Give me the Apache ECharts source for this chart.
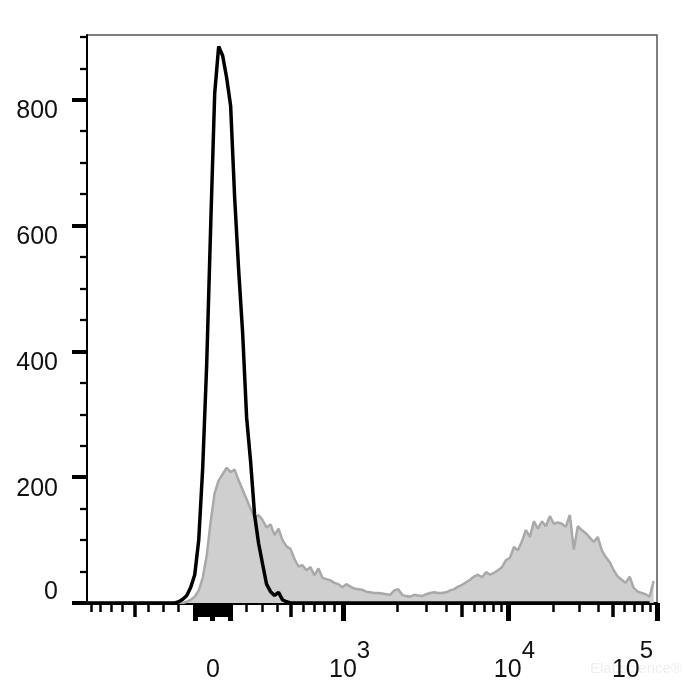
<!DOCTYPE html>
<html><head><meta charset="utf-8">
<script src="https://cdn.jsdelivr.net/npm/echarts@6/dist/echarts.min.js"></script>
<style>html,body{margin:0;padding:0;background:#fff}#c{width:700px;height:700px}</style>
</head><body><div id="c"></div>
<script>
// ---- histogram data (display-channel bins, left to right) ----
const BIN_START = -126;   // display units of first bin
const BIN_STEP = 4;
const greyCounts = [
  0,0,0,0,0,0,0,0,0,0, 0,0,0,0,0,0,0,0,0,0, 0,0,0,0,0,
  2,5,10,20,40,75,130,175,195,205,215,208,212,195,180,165,150,135,140,132,120,125,108,118,100,
  90,86,70,58,60,52,57,44,55,40,38,36,32,30,25,30,26,23,22,21,18,17,16,16,15,14,13,20,22,13,
  11,10,13,12,11,14,16,17,16,16,17,20,22,26,29,33,37,42,45,41,49,45,48,52,57,68,72,89,84,98,
  116,105,130,118,130,122,138,126,128,126,121,140,85,122,116,111,104,97,105,84,73,65,52,42,37,32,42,24,18,16,
  14,10,35
];
const blackCounts = [
  0,0,0,0,0,0,0,0,0,0, 0,0,0,0,0,0,0,0,0,0, 0,0,0,
  2,6,12,25,45,100,215,380,600,810,885,870,835,790,645,530,430,295,225,140,95,62,30,18,12,17,5,2,
  0,0,0,0,0,0,0,0,0,0, 0,0,0,0,0,0,0,0,0,0, 0,0,0,0,0,0,0,0,0,0, 0,0,0,0,0,0,0,0,0,0,
  0,0,0,0,0,0,0,0,0,0, 0,0,0,0,0,0,0,0,0,0, 0,0,0,0,0,0,0,0,0,0, 0,0,0,0,0,0,0,0,0,0,
  0,0,0,0,0,0,0,0,0,0, 0
];
// ---- axis ticks / labels ----
const yTickValues = [0, 200, 400, 600, 800];
const yTickLabels = ['0', '200', '400', '600', '800'];
const yMinorValues = [50,100,150,250,300,350,450,500,550,650,700,750,850,900];
const xLabelValues = [0, 1000, 10000, 100000];
const xLabelBase = ['0', '10', '10', '10'];
const xLabelSup = ['', '3', '4', '5'];
const xMajorValues = [-100, 0, 100, 1000, 10000, 100000];
const xMediumValues = [-500,-90,-80,-70,-60,-50,-40,-30,-20,-10,10,20,30,40,50,60,70,80,90,500,5000,50000];
const xMinorValues = [-900,-800,-700,-600,-400,-300,-200,200,300,400,600,700,800,900,
  2000,3000,4000,6000,7000,8000,9000,20000,30000,40000,60000,70000,80000,90000];
const YMAX = 903;

// biexponential-style display transform (value -> display units)
const LB = 97.3, LC = 560, DEC = 148, KX = 18.8, TAU = 0.4;
const D1000 = LB * Math.asinh(1000 / LC);
function toDisp(v) {
  const a = Math.abs(v), s = v < 0 ? -1 : 1;
  let d;
  if (a <= 1000) d = LB * Math.asinh(a / LC);
  else { const u = Math.log10(a / 1000); d = D1000 + DEC * u + KX * (1 - Math.exp(-u / TAU)); }
  return s * d;
}
const XMIN = BIN_START;
const XMAX = toDisp(100000);

const FONT = "'Liberation Sans', Arial, sans-serif";
const xLabelDisp = xLabelValues.map(toDisp);

function xAxisBase(extra) {
  return Object.assign({
    type: 'value', min: XMIN, max: XMAX, gridIndex: 0, position: 'bottom',
    splitLine: { show: false }, axisLine: { show: false, onZero: false },
    axisTick: { show: false }, axisLabel: { show: false }
  }, extra);
}
function tickAxis(vals, len, w) {
  return xAxisBase({ axisTick: { show: true, customValues: vals.map(toDisp), length: len, inside: false,
    lineStyle: { color: '#000', width: w } } });
}

const chart = echarts.init(document.getElementById('c'), null, { renderer: 'canvas' });
chart.setOption({
  animation: false,
  backgroundColor: '#fff',
  grid: { left: 87, right: 43, top: 35, bottom: 97, show: true, borderColor: '#555', borderWidth: 1.5 },
  graphic: [{ type: 'text', left: 590, top: 661, z: 0, style: { text: 'Elabscience®', fontSize: 15, fontFamily: FONT, fill: '#eeeeee' } }],
  xAxis: [
    xAxisBase({
      axisLine: { show: true, onZero: false, lineStyle: { color: '#000', width: 3 } },
      axisLabel: {
        show: true, customValues: xLabelDisp, margin: 36, color: '#111', fontFamily: FONT,
        formatter: function (val) {
          let i = 0, best = 1e9;
          xLabelDisp.forEach((d, k) => { const e = Math.abs(d - val); if (e < best) { best = e; i = k; } });
          if (!xLabelSup[i]) return '{b0|' + xLabelBase[i] + '}{sp| }';
          if (i === xLabelValues.length - 1) return '{bR|' + xLabelBase[i] + '}{sR|' + xLabelSup[i] + '}';
          return '{b|' + xLabelBase[i] + '}{s|' + xLabelSup[i] + '}';
        },
        rich: {
          b: { fontSize: 25, fontFamily: FONT, color: '#111', padding: [0, 0, 0, 13], verticalAlign: 'middle' },
          b0: { fontSize: 25, fontFamily: FONT, color: '#111', padding: [0, 0, 0, 7], verticalAlign: 'middle' },
          bR: { fontSize: 25, fontFamily: FONT, color: '#111', padding: [0, 0, 0, 0], verticalAlign: 'middle' },
          s: { fontSize: 24, fontFamily: FONT, color: '#111', padding: [0, 0, 39, 0], verticalAlign: 'middle' },
          sp: { fontSize: 24, fontFamily: FONT, color: '#111', padding: [0, 0, 39, 0], verticalAlign: 'middle' },
          sR: { fontSize: 24, fontFamily: FONT, color: '#111', padding: [0, 49, 39, 0], verticalAlign: 'middle' }
        }
      }
    }),
    tickAxis(xMajorValues, 18, 5),
    tickAxis(xMediumValues, 14, 3.5),
    tickAxis(xMinorValues, 9, 2.5)
  ],
  yAxis: [
    {
      type: 'value', min: 0, max: YMAX, position: 'left',
      splitLine: { show: false },
      axisLine: { show: true, onZero: false, lineStyle: { color: '#000', width: 2 } },
      axisTick: { show: true, customValues: yTickValues, length: 15, lineStyle: { color: '#000', width: 4 } },
      axisLabel: {
        show: true, customValues: yTickValues, margin: 29, color: '#111', fontFamily: FONT, fontSize: 25,
        formatter: function (val) {
          const i = yTickValues.indexOf(val);
          const t = i >= 0 ? yTickLabels[i] : String(val);
          return val === 0 ? '{up|' + t + '}' : '{dn|' + t + '}';
        },
        rich: {
          up: { fontSize: 25, fontFamily: FONT, color: '#111', padding: [0, 0, 21, 0] },
          dn: { fontSize: 25, fontFamily: FONT, color: '#111', padding: [23, 0, 0, 0] }
        }
      }
    },
    {
      type: 'value', min: 0, max: YMAX, position: 'left',
      splitLine: { show: false }, axisLine: { show: false, onZero: false }, axisLabel: { show: false },
      axisTick: { show: true, customValues: yMinorValues, length: 7, lineStyle: { color: '#000', width: 2.3 } }
    }
  ],
  series: [
    {
      type: 'line', xAxisIndex: 0, yAxisIndex: 0, symbol: 'none', z: 2,
      data: greyCounts.map((c, i) => [BIN_START + BIN_STEP * i, c]),
      lineStyle: { color: '#a9a9a9', width: 2.5 },
      areaStyle: { color: '#cfcfcf', opacity: 1 }
    },
    {
      type: 'line', xAxisIndex: 0, yAxisIndex: 0, symbol: 'none', z: 3,
      data: blackCounts.map((c, i) => [BIN_START + BIN_STEP * i, c]),
      lineStyle: { color: '#000', width: 3.5 }
    }
  ]
});
</script>
</body></html>
